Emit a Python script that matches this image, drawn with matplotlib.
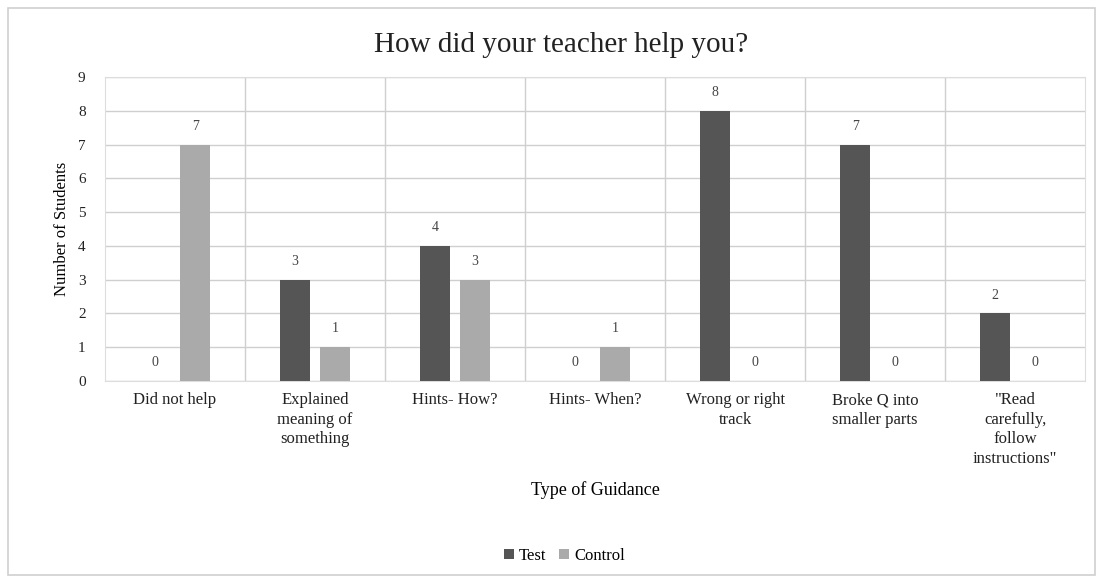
import numpy as np
import matplotlib
matplotlib.use("Agg")
import matplotlib.pyplot as plt
from matplotlib.patches import Rectangle

categories = ["Did not help", "Explained\nmeaning of\nsomething", "Hints- How?",
              "Hints- When?", "Wrong or right\ntrack", "Broke Q into\nsmaller parts",
              "\"Read\ncarefully,\nfollow\ninstructions\""]
test = [0, 3, 4, 0, 8, 7, 2]
control = [7, 1, 3, 1, 0, 0, 0]

plt.rcParams['font.family'] = ['Liberation Serif', 'DejaVu Serif']

fig = plt.figure(figsize=(11, 5.79), dpi=100)
fig.patches.append(Rectangle((0.007, 0.007), 0.988, 0.98, transform=fig.transFigure,
                             fill=False, edgecolor="#d0d0d0", linewidth=1.2))
ax = fig.add_axes([0.0955, 0.342, 0.891, 0.525])

x = np.arange(len(categories))
w = 0.214
off = 0.143
b1 = ax.bar(x - off, test, w, color="#555555", label="Test", zorder=3)
b2 = ax.bar(x + off, control, w, color="#aaaaaa", label="Control", zorder=3)

for bars in (b1, b2):
    for b in bars:
        h = b.get_height()
        ax.text(b.get_x() + b.get_width() / 2, h + 0.35, str(int(h)),
                ha="center", va="bottom", fontsize=10, color="#444444")

ax.set_xlim(-0.5, len(categories) - 0.5)
ax.set_ylim(0, 9)
ax.set_yticks(range(10))
ax.set_xticks(x)
ax.set_xticklabels(categories, fontsize=12, linespacing=1.3)
ax.tick_params(axis="both", length=0, colors="#222222")
ax.tick_params(axis="y", labelsize=11, pad=14)
ax.tick_params(axis="x", pad=8)

ax.grid(axis="y", color="#cfcfcf", linewidth=1, zorder=0)
for xv in np.arange(0.5, len(categories) - 0.5, 1):
    ax.axvline(xv, color="#cfcfcf", linewidth=1, zorder=0)
for s in ax.spines.values():
    s.set_color("#dddddd")

fig.suptitle("How did your teacher help you?", x=0.51, y=0.945, fontsize=21, color="#222222")
ax.set_ylabel("Number of Students", fontsize=12, labelpad=6)
ax.set_xlabel("Type of Guidance", fontsize=13, labelpad=10)

fig.legend(loc="lower center", bbox_to_anchor=(0.513, 0.0), ncol=2, frameon=False,
           fontsize=12, handlelength=0.6, handleheight=0.6, columnspacing=0.8,
           handletextpad=0.3)

fig.savefig("out.png", dpi=100)
